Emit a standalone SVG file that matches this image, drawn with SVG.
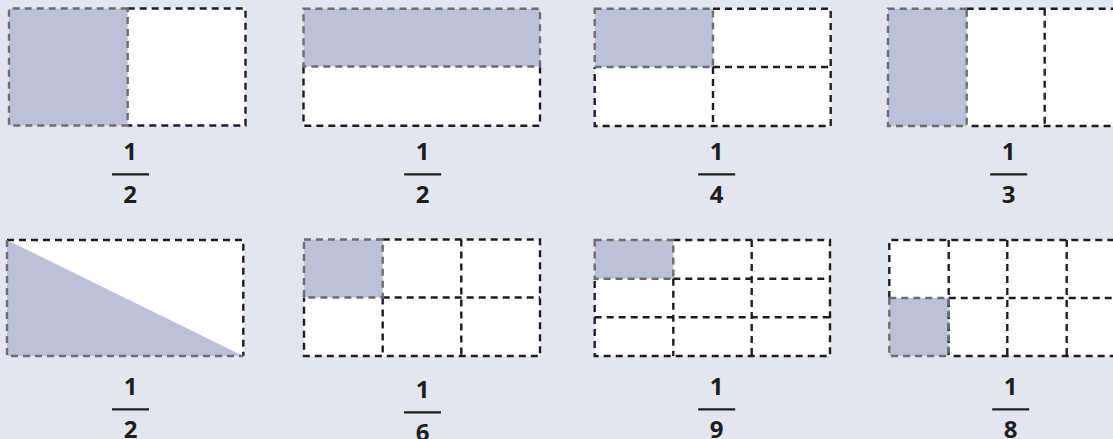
<svg xmlns="http://www.w3.org/2000/svg" width="1113" height="439" viewBox="0 0 1113 439">
<style>
.bg{fill:#e3e6f0}
.cell{fill:#ffffff}
.sh{fill:#bcc0d8}
.dk{fill:none;stroke:#1e1e1e;stroke-width:2.4;stroke-dasharray:7 5}
.gr{fill:none;stroke:#6e6e6e;stroke-width:2.4;stroke-dasharray:7 5}
.num{font-family:"Open Sans","Noto Sans",sans-serif;font-weight:700;font-size:24px;fill:#1e1e1e;text-anchor:middle}
.bar{stroke:#1e1e1e;stroke-width:2.2}
</style>
<rect class="bg" x="0" y="0" width="1113" height="439"/>

<g id="p1">
<rect class="cell" x="9" y="8.5" width="236.5" height="117"/>
<rect class="sh" x="9" y="8.5" width="118.7" height="117"/>
<path class="dk" d="M127.7 8.5H245.5V125.5H127.7"/>
<path class="gr" d="M127.7 8.5H9V125.5H127.7Z"/>
<text class="num" x="130" y="160">1</text><line class="bar" x1="112" y1="174.3" x2="149" y2="174.3"/><text class="num" x="130" y="202.7">2</text>
</g>

<g id="p2">
<rect class="cell" x="303.5" y="8.7" width="236.5" height="117"/>
<rect class="sh" x="303.5" y="8.7" width="236.5" height="57.8"/>
<path class="dk" d="M303.5 66.5V125.7H540V66.5"/>
<path class="gr" d="M303.5 8.7H540V66.5H303.5Z"/>
<text class="num" x="422.7" y="160">1</text><line class="bar" x1="404.2" y1="174.3" x2="441.2" y2="174.3"/><text class="num" x="422.7" y="202.7">2</text>
</g>

<g id="p3">
<rect class="cell" x="594.7" y="8.7" width="236" height="117.3"/>
<rect class="sh" x="594.7" y="8.7" width="118.3" height="58.3"/>
<path class="dk" d="M713 8.7H830.7V126H594.7V67M713 67H830.7M713 67V126"/>
<path class="gr" d="M594.7 8.7H713V67H594.7Z"/>
<text class="num" x="716.7" y="160">1</text><line class="bar" x1="698.2" y1="174.3" x2="735.2" y2="174.3"/><text class="num" x="716.7" y="202.7">4</text>
</g>

<g id="p4">
<rect class="cell" x="888" y="8.7" width="236" height="117.3"/>
<rect class="sh" x="888" y="8.7" width="78.7" height="117.3"/>
<path class="dk" d="M966.7 8.7H1124V126H966.7M1044.7 8.7V126"/>
<path class="gr" d="M966.7 8.7H888V126H966.7Z"/>
<text class="num" x="1008.7" y="160">1</text><line class="bar" x1="990.2" y1="174.3" x2="1027.2" y2="174.3"/><text class="num" x="1008.7" y="202.7">3</text>
</g>

<g id="p5">
<rect class="cell" x="7" y="240" width="236.3" height="116"/>
<polygon class="sh" points="7,240 243.3,356 7,356"/>
<path class="dk" d="M7 240H243.3V356"/>
<path class="gr" d="M7 240V356H243.3"/>
<text class="num" x="130.5" y="395.3">1</text><line class="bar" x1="112" y1="409.3" x2="149" y2="409.3"/><text class="num" x="130.5" y="437.8">2</text>
</g>

<g id="p6">
<rect class="cell" x="304" y="239.5" width="236" height="116.5"/>
<rect class="sh" x="304" y="239.5" width="78.7" height="58"/>
<path class="dk" d="M382.7 239.5H540V356H304V297.5M382.7 297.5H540M382.7 297.5V356M461.3 239.5V356"/>
<path class="gr" d="M304 239.5H382.7V297.5H304Z"/>
<text class="num" x="422.5" y="398.2">1</text><line class="bar" x1="404" y1="412.3" x2="441" y2="412.3"/><text class="num" x="422.5" y="440.8">6</text>
</g>

<g id="p7">
<rect class="cell" x="594.7" y="240" width="235.3" height="116"/>
<rect class="sh" x="594.7" y="240" width="78.6" height="38.7"/>
<path class="dk" d="M673.3 240H830V356H594.7V278.7M673.3 278.7H830M594.7 317.3H830M673.3 278.7V356M751.7 240V356"/>
<path class="gr" d="M594.7 240H673.3V278.7H594.7Z"/>
<text class="num" x="716.7" y="395.3">1</text><line class="bar" x1="698.2" y1="409.3" x2="735.2" y2="409.3"/><text class="num" x="716.7" y="437.8">9</text>
</g>

<g id="p8">
<rect class="cell" x="889.3" y="240" width="236" height="116"/>
<rect class="sh" x="889.3" y="298" width="59.4" height="58"/>
<path class="dk" d="M889.3 298V240H1126V356H948.7M948.7 298H1126M948.7 240V356M1007.3 240V356M1066.7 240V356"/>
<path class="gr" d="M889.3 298H948.7V356H889.3Z"/>
<text class="num" x="1010.7" y="395.3">1</text><line class="bar" x1="992.2" y1="409.3" x2="1029.2" y2="409.3"/><text class="num" x="1010.7" y="437.8">8</text>
</g>
</svg>
